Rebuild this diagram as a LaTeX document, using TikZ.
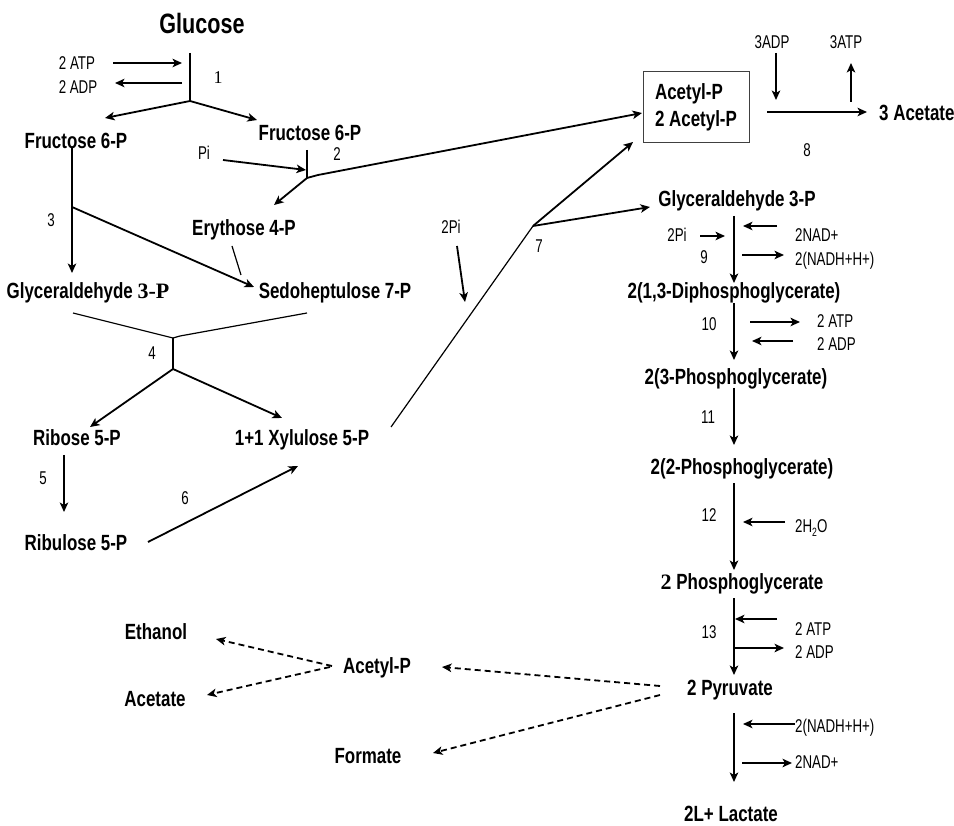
\documentclass[tikz,border=0pt]{standalone}
\usepackage{fontspec}
\setmainfont{Liberation Sans}[FakeStretch=0.77]
\newfontfamily\smallsans{Liberation Sans}[FakeStretch=0.72]
\newfontfamily\tnr{Liberation Serif}
\usetikzlibrary{arrows.meta}

\tikzset{
  metab/.style={font=\fontsize{22}{27}\selectfont\bfseries, inner sep=0pt, anchor=base},
  cof/.style={font=\smallsans\fontsize{18.5}{21}\selectfont, inner sep=0pt, anchor=base west},
  enz/.style={font=\smallsans\fontsize{18.5}{21}\selectfont, inner sep=0pt, anchor=base},
  tip/.style={-{Stealth[length=9.5pt,width=8.5pt,inset=2.5pt]}},
  arr/.style={line width=1.8pt, tip},
  bar/.style={line width=1.5pt},
  link/.style={line width=1.2pt},
  dasharr/.style={line width=1.8pt, dash pattern=on 6pt off 4pt, tip},
}

\begin{document}
\begin{tikzpicture}[x=1pt, y=-1pt]
\useasboundingbox (0,0) rectangle (954,826);

% ---------- metabolites ----------
\node[metab, font=\fontsize{28}{32}\selectfont\bfseries] (glc) at (202,34) {Glucose};
\node[metab] (f6pL) at (76,149) {Fructose 6-P};
\node[metab] (f6pR) at (310,141) {Fructose 6-P};
\node[metab] (e4p) at (244,236) {Erythose 4-P};
\node[metab] (g3pL) at (88,299) {Glyceraldehyde {\tnr 3-P}};
\node[metab] (s7p) at (335,299) {Sedoheptulose 7-P};
\node[metab] (r5p) at (77,446) {Ribose 5-P};
\node[metab] (x5p) at (302,446) {1+1 Xylulose 5-P};
\node[metab] (ru5p) at (76,550) {Ribulose 5-P};
\node[draw=black!75, line width=1pt, minimum width=106pt, minimum height=71pt, align=left,
      inner sep=0pt, font=\fontsize{22}{27}\selectfont\bfseries] (acp) at (696,107.5)
      {Acetyl-P\\2 Acetyl-P};
\node[metab, anchor=base west] (ace3) at (879,121) {3 Acetate};
\node[metab] (g3pR) at (737,207) {Glyceraldehyde 3-P};
\node[metab] (dpg) at (734,299) {2(1,3-Diphosphoglycerate)};
\node[metab] (pg3) at (736,385) {2(3-Phosphoglycerate)};
\node[metab] (pg2) at (742,475) {2(2-Phosphoglycerate)};
\node[metab] (pep) at (742,589) {{\tnr 2} Phosphoglycerate};
\node[metab] (pyr) at (730,695) {2 Pyruvate};
\node[metab] (lac) at (731,821) {2L+ Lactate};
\node[metab] (etoh) at (156,639) {Ethanol};
\node[metab] (acet) at (155,706) {Acetate};
\node[metab] (acp2) at (377,673) {Acetyl-P};
\node[metab] (form) at (368,763) {Formate};

% ---------- cofactors ----------
\node[enz] (atp1) at (77,70) {2 ATP};
\node[enz] (adp1) at (78,94) {2 ADP};
\node[enz] (pi1) at (204,160) {Pi};
\node[enz] (pi2) at (451,234) {2Pi};
\node[enz] (adp8) at (772,49) {3ADP};
\node[enz] (atp8) at (846,49) {3ATP};
\node[enz] (pi9) at (677,242) {2Pi};
\node[cof] (nad9) at (795,242) {2NAD+};
\node[cof] (nadh9) at (795,266) {2(NADH+H+)};
\node[cof] (atp10) at (817,328) {2 ATP};
\node[cof] (adp10) at (817,351) {2 ADP};
\node[cof] (h2o) at (795,532) {2H\raisebox{-0.45ex}{\fontsize{12}{12}\selectfont 2}O};
\node[cof] (atp13) at (795,635) {2 ATP};
\node[cof] (adp13) at (795,658) {2 ADP};
\node[cof] (nadhL) at (795,732) {2(NADH+H+)};
\node[cof] (nadL) at (795,768) {2NAD+};

% ---------- step numbers ----------
\node[enz, font=\fontsize{18}{20}\selectfont\tnr] (s1) at (218,84) {1};
\node[enz] (s2) at (337,161) {2};
\node[enz] (s3) at (51,227) {3};
\node[enz] (s4) at (152,360) {4};
\node[enz] (s5) at (43,485) {5};
\node[enz] (s6) at (185,504) {6};
\node[enz] (s7) at (539,253) {7};
\node[enz] (s8) at (807,157) {8};
\node[enz] (s9) at (704,264) {9};
\node[enz] (s10) at (709,331) {10};
\node[enz] (s11) at (708,424) {11};
\node[enz] (s12) at (709,521) {12};
\node[enz] (s13) at (709,638) {13};

% ---------- junction points ----------
\coordinate (j1a) at (190,53);
\coordinate (j1) at (190,101);
\coordinate (j2a) at (307,150);
\coordinate (j2) at (307,178);
\coordinate (j2b) at (318,175);
\coordinate (j3) at (72,207);
\coordinate (j4a) at (173,338);
\coordinate (j4b) at (180,336);
\coordinate (j4) at (173,369);
\coordinate (j7) at (533,226);
\coordinate (j6) at (148,542);
\coordinate (j7a) at (391,427);

% ---------- step 1 ----------
\draw[bar] (j1a) -- (j1);
\draw[arr] (113,63) -- (182,63);
\draw[arr] (182,83) -- (115,83);
\draw[arr] (j1) -- (105,118);
\draw[arr] (j1) -- (257,120);

% ---------- step 2 ----------
\draw[bar] (j2a) -- (j2);
\draw[arr] (223,160) -- (306,170);
\draw[arr] (j2) -- (j2b) -- (642,113);
\draw[arr] (j2) -- (274,205);

% ---------- step 3 ----------
\draw[arr] (72,148) -- (72,273);
\draw[arr] (j3) -- (254,287);
\draw[link] (232,246) -- (241,275);

% ---------- step 4 ----------
\draw[link] (73,313) -- (j4a);
\draw[link] (307,313) -- (j4b) -- (j4a);
\draw[bar] (j4a) -- (j4);
\draw[arr] (j4) -- (90,427);
\draw[arr] (j4) -- (282,418);

% ---------- steps 5, 6 ----------
\draw[arr] (64,455) -- (64,512);
\draw[arr] (j6) -- (298,466);

% ---------- step 7 ----------
\draw[arr] (457,246) -- (465,302);
\draw[link] (j7a) -- (j7);
\draw[arr] (j7) -- (633,142);
\draw[arr] (j7) -- (650,207);

% ---------- step 8 ----------
\draw[arr] (767,112) -- (867,112);
\draw[arr] (776,53) -- (776,100);
\draw[arr] (851,102) -- (851,63);

% ---------- glycolysis ----------
\draw[arr] (734,216) -- (734,283);
\draw[arr] (700,236) -- (725,236);
\draw[arr] (777,226) -- (743,226);
\draw[arr] (742,255) -- (784,255);

\draw[arr] (734,303) -- (734,360);
\draw[arr] (750,322) -- (800,322);
\draw[arr] (793,341) -- (752,341);

\draw[arr] (734,388) -- (734,445);

\draw[arr] (734,483) -- (734,570);
\draw[arr] (785,522) -- (743,522);

\draw[arr] (734,598) -- (734,675);
\draw[arr] (777,619) -- (735,619);
\draw[arr] (734,648) -- (784,648);

\draw[arr] (734,713) -- (734,782);
\draw[arr] (795,724) -- (743,724);
\draw[arr] (742,763) -- (792,763);

% ---------- fermentation branches ----------
\draw[dasharr] (660,686) -- (442,667);
\draw[dasharr] (660,695) -- (433,753);
\draw[dasharr] (332,666) -- (216,639);
\draw[dasharr] (330,667) -- (207,695);
\end{tikzpicture}
\end{document}
